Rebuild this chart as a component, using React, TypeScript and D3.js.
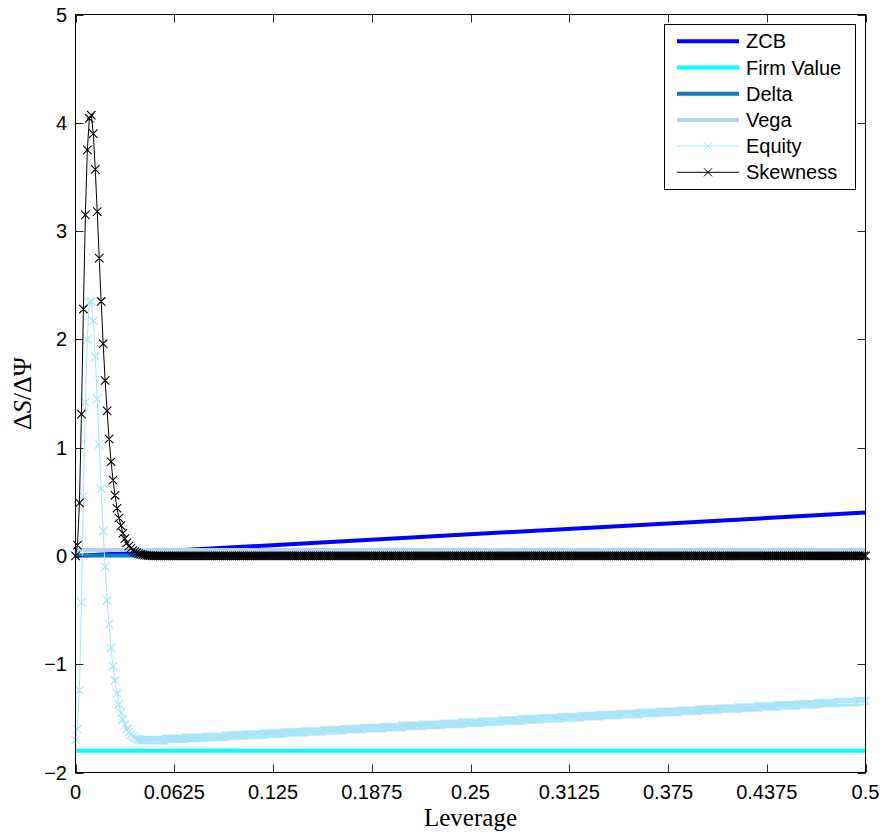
import React from "react";
import * as d3 from "d3";

// ---------- data ----------
const X_TICKS = [0, 0.0625, 0.125, 0.1875, 0.25, 0.3125, 0.375, 0.4375, 0.5];
const X_TICK_LABELS = ["0", "0.0625", "0.125", "0.1875", "0.25", "0.3125", "0.375", "0.4375", "0.5"];
const Y_TICKS = [-2, -1, 0, 1, 2, 3, 4, 5];
const Y_TICK_LABELS = ["\u22122", "\u22121", "0", "1", "2", "3", "4", "5"];

// leverage grid (x categories): 401 points from 0 to 0.5
const LEVERAGE = d3.range(401).map((i) => i / 800);

// lines without markers (end points)
const LINE_X = [0, 0.5];
const ZCB = [0.0, 0.4];
const FIRM_VALUE = [-1.8, -1.8];
const DELTA = [0.005, 0.005];
const VEGA = [0.055, 0.055];

// Equity (one value per leverage grid point)
const EQUITY = [
  -1.70, -1.60, -1.24, -0.43, 0.55, 1.42, 2.00, 2.34, 2.35, 2.17,
  1.84, 1.45, 1.03, 0.62, 0.23, -0.10, -0.41, -0.63, -0.85, -1.02,
  -1.15, -1.27, -1.37, -1.45, -1.51, -1.56, -1.60, -1.63, -1.65, -1.665,
  -1.68, -1.69, -1.695,
  -1.70, -1.70, -1.70, -1.70, -1.70, -1.70, -1.70, -1.70, -1.70, -1.70, -1.70, -1.70, -1.70,
  -1.69, -1.69, -1.69, -1.69, -1.69, -1.69, -1.69, -1.69, -1.69, -1.69,
  -1.68, -1.68, -1.68, -1.68, -1.68, -1.68, -1.68, -1.68, -1.68, -1.68,
  -1.67, -1.67, -1.67, -1.67, -1.67, -1.67, -1.67, -1.67, -1.67, -1.67,
  -1.66, -1.66, -1.66, -1.66, -1.66, -1.66, -1.66, -1.66, -1.66, -1.66,
  -1.65, -1.65, -1.65, -1.65, -1.65, -1.65, -1.65, -1.65, -1.65, -1.65,
  -1.64, -1.64, -1.64, -1.64, -1.64, -1.64, -1.64, -1.64, -1.64, -1.64,
  -1.63, -1.63, -1.63, -1.63, -1.63, -1.63, -1.63, -1.63, -1.63, -1.63,
  -1.62, -1.62, -1.62, -1.62, -1.62, -1.62, -1.62, -1.62, -1.62, -1.62,
  -1.61, -1.61, -1.61, -1.61, -1.61, -1.61, -1.61, -1.61, -1.61, -1.61,
  -1.60, -1.60, -1.60, -1.60, -1.60, -1.60, -1.60, -1.60, -1.60, -1.60,
  -1.59, -1.59, -1.59, -1.59, -1.59, -1.59, -1.59, -1.59, -1.59, -1.59,
  -1.58, -1.58, -1.58, -1.58, -1.58, -1.58, -1.58, -1.58, -1.58, -1.58,
  -1.57, -1.57, -1.57, -1.57, -1.57, -1.57, -1.57, -1.57, -1.57, -1.57,
  -1.56, -1.56, -1.56, -1.56, -1.56, -1.56, -1.56, -1.56, -1.56, -1.56,
  -1.55, -1.55, -1.55, -1.55, -1.55, -1.55, -1.55, -1.55, -1.55, -1.55,
  -1.54, -1.54, -1.54, -1.54, -1.54, -1.54, -1.54, -1.54, -1.54, -1.54,
  -1.53, -1.53, -1.53, -1.53, -1.53, -1.53, -1.53, -1.53, -1.53, -1.53,
  -1.52, -1.52, -1.52, -1.52, -1.52, -1.52, -1.52, -1.52, -1.52, -1.52,
  -1.51, -1.51, -1.51, -1.51, -1.51, -1.51, -1.51, -1.51, -1.51, -1.51,
  -1.50, -1.50, -1.50, -1.50, -1.50, -1.50, -1.50, -1.50, -1.50, -1.50,
  -1.49, -1.49, -1.49, -1.49, -1.49, -1.49, -1.49, -1.49, -1.49, -1.49,
  -1.48, -1.48, -1.48, -1.48, -1.48, -1.48, -1.48, -1.48, -1.48, -1.48,
  -1.47, -1.47, -1.47, -1.47, -1.47, -1.47, -1.47, -1.47, -1.47, -1.47,
  -1.46, -1.46, -1.46, -1.46, -1.46, -1.46, -1.46, -1.46, -1.46, -1.46,
  -1.45, -1.45, -1.45, -1.45, -1.45, -1.45, -1.45, -1.45, -1.45, -1.45,
  -1.44, -1.44, -1.44, -1.44, -1.44, -1.44, -1.44, -1.44, -1.44, -1.44,
  -1.43, -1.43, -1.43, -1.43, -1.43, -1.43, -1.43, -1.43, -1.43, -1.43,
  -1.42, -1.42, -1.42, -1.42, -1.42, -1.42, -1.42, -1.42, -1.42, -1.42,
  -1.41, -1.41, -1.41, -1.41, -1.41, -1.41, -1.41, -1.41, -1.41, -1.41,
  -1.40, -1.40, -1.40, -1.40, -1.40, -1.40, -1.40, -1.40, -1.40, -1.40,
  -1.39, -1.39, -1.39, -1.39, -1.39, -1.39, -1.39, -1.39, -1.39, -1.39,
  -1.38, -1.38, -1.38, -1.38, -1.38, -1.38, -1.38, -1.38, -1.38, -1.38,
  -1.37, -1.37, -1.37, -1.37, -1.37, -1.37, -1.37, -1.37, -1.37, -1.37,
  -1.36, -1.36, -1.36, -1.36, -1.36, -1.36, -1.36, -1.36, -1.36, -1.36,
  -1.35, -1.35, -1.35, -1.35, -1.35, -1.35, -1.35, -1.35, -1.35, -1.35,
  -1.34, -1.34, -1.34, -1.34, -1.34,
];

// Skewness: peak region read point by point, flat at zero afterwards
const SKEWNESS_PEAK = [
  0.00, 0.10, 0.49, 1.31, 2.28, 3.15, 3.75, 4.04, 4.07, 3.90,
  3.57, 3.18, 2.75, 2.35, 1.96, 1.62, 1.34, 1.08, 0.87, 0.70,
  0.56, 0.44, 0.35, 0.28, 0.21, 0.16, 0.12, 0.09, 0.07, 0.05,
  0.04, 0.03, 0.02, 0.015, 0.01, 0.007, 0.005, 0.003, 0.002, 0.001,
];
const SKEWNESS_TAIL_VALUE = 0; // every remaining grid point reads as 0
const SKEWNESS = LEVERAGE.map((_, i) => (i < SKEWNESS_PEAK.length ? SKEWNESS_PEAK[i] : SKEWNESS_TAIL_VALUE));

const SERIES_NAMES = ["ZCB", "Firm Value", "Delta", "Vega", "Equity", "Skewness"];
const SERIES_COLORS = ["#0000FF", "#00FFFF", "#0F7DC2", "#B4D2F0", "#A8E4F8", "#000000"];

// ---------- layout ----------
const W = 883;
const H = 834;
const PL = 75.5, PR = 865.5, PT = 14.5, PB = 772.5;
const SANS = "'Liberation Sans', Arial, Helvetica, sans-serif";
const SERIF = "'Liberation Serif', 'Times New Roman', serif";

function crossPath(pts: [number, number][], r: number) {
  return pts
    .map(([px, py]) => `M${px - r},${py - r}L${px + r},${py + r}M${px - r},${py + r}L${px + r},${py - r}`)
    .join("");
}

export default function App() {
  const x = d3.scaleLinear().domain([0, 0.5]).range([PL, PR]);
  const y = d3.scaleLinear().domain([-2, 5]).range([PB, PT]);

  const line = d3
    .line<[number, number]>()
    .x((d) => x(d[0]))
    .y((d) => y(d[1]));

  const pairs = (xs: number[], ys: number[]) =>
    xs.map((v, i) => [v, ys[i]] as [number, number]).filter((d) => d[1] !== undefined);

  const thick = [
    { ys: ZCB, color: SERIES_COLORS[0] },
    { ys: FIRM_VALUE, color: SERIES_COLORS[1] },
    { ys: DELTA, color: SERIES_COLORS[2] },
    { ys: VEGA, color: SERIES_COLORS[3] },
  ];

  const eqPts = pairs(LEVERAGE, EQUITY);
  const skPts = pairs(LEVERAGE, SKEWNESS);
  const eqPx = eqPts.map((d) => [x(d[0]), y(d[1])] as [number, number]);
  const skPx = skPts.map((d) => [x(d[0]), y(d[1])] as [number, number]);

  const tickLen = 8;
  const tickColor = "#262626";

  // legend
  const LX = 664.5, LY = 24.5, LW = 191, LH = 165;
  const rowY = (k: number) => 41.3 + k * 26.2;
  const lx1 = 677, lx2 = 739, ltx = 746;

  return (
    <svg width={W} height={H} style={{ position: "absolute", left: 0, top: 0, background: "#fff" }}>
      <rect x={0} y={0} width={W} height={H} fill="#fff" />

      {/* series */}
      {thick.map((s, i) => (
        <path key={i} d={line(pairs(LINE_X, s.ys)) || ""} fill="none" stroke={s.color} strokeWidth={4} />
      ))}
      <path d={line(eqPts) || ""} fill="none" stroke={SERIES_COLORS[4]} strokeWidth={1} />
      <path d={crossPath(eqPx, 4.2)} fill="none" stroke={SERIES_COLORS[4]} strokeWidth={1.2} />
      <path d={line(skPts) || ""} fill="none" stroke={SERIES_COLORS[5]} strokeWidth={1} />
      <path d={crossPath(skPx, 4.2)} fill="none" stroke={SERIES_COLORS[5]} strokeWidth={1.1} />

      {/* axes box */}
      <rect x={PL} y={PT} width={PR - PL} height={PB - PT} fill="none" stroke="#000" strokeWidth={1} />

      {/* x ticks */}
      {X_TICKS.map((t, i) => (
        <g key={"xt" + i}>
          <line x1={Math.round(x(t)) + 0.5} x2={Math.round(x(t)) + 0.5} y1={PB} y2={PB - tickLen} stroke={tickColor} />
          <line x1={Math.round(x(t)) + 0.5} x2={Math.round(x(t)) + 0.5} y1={PT} y2={PT + tickLen} stroke={tickColor} />
          <text x={x(t)} y={799} textAnchor="middle" fontFamily={SANS} fontSize={20} fill="#000">
            {X_TICK_LABELS[i]}
          </text>
        </g>
      ))}

      {/* y ticks */}
      {Y_TICKS.map((t, i) => (
        <g key={"yt" + i}>
          <line x1={PL} x2={PL + tickLen} y1={Math.round(y(t)) + 0.5} y2={Math.round(y(t)) + 0.5} stroke={tickColor} />
          <line x1={PR} x2={PR - tickLen} y1={Math.round(y(t)) + 0.5} y2={Math.round(y(t)) + 0.5} stroke={tickColor} />
          <text x={67} y={y(t) + 7} textAnchor="end" fontFamily={SANS} fontSize={20} fill="#000">
            {Y_TICK_LABELS[i]}
          </text>
        </g>
      ))}

      {/* axis labels */}
      <text x={(PL + PR) / 2} y={826} textAnchor="middle" fontFamily={SERIF} fontSize={25} fill="#000">
        Leverage
      </text>
      <text transform={`translate(31,${(PT + PB) / 2}) rotate(-90)`} textAnchor="middle" fontFamily={SERIF} fontSize={26} fill="#000">
        <tspan>Δ</tspan>
        <tspan fontStyle="italic">S</tspan>
        <tspan>/Δ</tspan>
        <tspan>Ψ</tspan>
      </text>

      {/* legend */}
      <rect x={LX} y={LY} width={LW} height={LH} fill="#fff" stroke="#000" strokeWidth={1} />
      {SERIES_NAMES.map((name, k) => {
        const yy = rowY(k);
        const marker = k >= 4;
        const mx = (lx1 + lx2) / 2;
        return (
          <g key={"lg" + k}>
            <line x1={lx1} x2={lx2} y1={yy} y2={yy} stroke={SERIES_COLORS[k]} strokeWidth={marker ? 1 : 4} />
            {marker && (
              <path d={crossPath([[mx, yy]], 4)} fill="none" stroke={SERIES_COLORS[k]} strokeWidth={1} />
            )}
            <text x={ltx} y={yy + 7} fontFamily={SANS} fontSize={20} fill="#000">
              {name}
            </text>
          </g>
        );
      })}
    </svg>
  );
}
